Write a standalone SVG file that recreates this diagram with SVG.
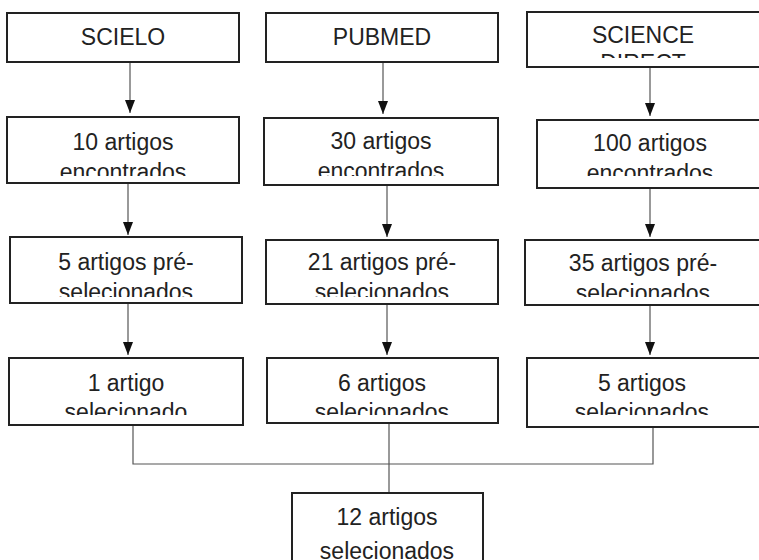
<svg xmlns="http://www.w3.org/2000/svg" width="759" height="560" viewBox="0 0 759 560">
<style>
.box{fill:#fff;stroke:#222;stroke-width:2}
.t{font-family:"Liberation Sans",Arial,sans-serif;font-size:23px;fill:#222;text-anchor:middle}
.c{fill:none;stroke:#555;stroke-width:1.2}
</style>
<defs>
<marker id="ah" viewBox="0 0 13 10" refX="13" refY="5" markerWidth="13" markerHeight="10" markerUnits="userSpaceOnUse" orient="auto">
<path d="M0,0 L13,5 L0,10 Z" fill="#111"/>
</marker>
<clipPath id="k1"><rect x="0" y="0" width="759" height="58"/></clipPath>
<clipPath id="k2"><rect x="0" y="0" width="759" height="176"/></clipPath>
<clipPath id="k3"><rect x="0" y="0" width="759" height="297"/></clipPath>
<clipPath id="k4"><rect x="0" y="0" width="759" height="415"/></clipPath>
</defs>
<g id="connectors">
<line class="c" x1="130" y1="62" x2="130" y2="113" marker-end="url(#ah)"/>
<line class="c" x1="383" y1="62" x2="383" y2="114" marker-end="url(#ah)"/>
<line class="c" x1="650" y1="67" x2="650" y2="116" marker-end="url(#ah)"/>
<line class="c" x1="128" y1="183" x2="128" y2="235" marker-end="url(#ah)"/>
<line class="c" x1="387" y1="185" x2="387" y2="237" marker-end="url(#ah)"/>
<line class="c" x1="650" y1="188" x2="650" y2="237" marker-end="url(#ah)"/>
<line class="c" x1="128" y1="303" x2="128" y2="355" marker-end="url(#ah)"/>
<line class="c" x1="387" y1="304" x2="387" y2="355" marker-end="url(#ah)"/>
<line class="c" x1="650" y1="305" x2="650" y2="355" marker-end="url(#ah)"/>
<polyline class="c" points="133,426 133,464 653,464 653,428"/>
<line class="c" x1="389" y1="424" x2="389" y2="493"/>
</g>
<g id="scielo">
<rect class="box" x="7" y="13" width="232" height="49"/>
<text class="t" x="123" y="45">SCIELO</text>
</g>
<g id="pubmed">
<rect class="box" x="266" y="13" width="232" height="49"/>
<text class="t" x="382" y="45">PUBMED</text>
</g>
<g id="sciencedirect">
<rect class="box" x="527" y="12" width="240" height="55"/>
<g clip-path="url(#k1)"><text class="t" x="643" y="43">SCIENCE<tspan x="643" dy="28">DIRECT</tspan></text></g>
</g>
<g id="scielo-encontrados">
<rect class="box" x="7" y="117" width="232" height="66"/>
<g clip-path="url(#k2)"><text class="t" x="123" y="150">10 artigos<tspan x="123" dy="30">encontrados</tspan></text></g>
</g>
<g id="pubmed-encontrados">
<rect class="box" x="264" y="118" width="234" height="67"/>
<g clip-path="url(#k2)"><text class="t" x="381" y="149">30 artigos<tspan x="381" dy="30">encontrados</tspan></text></g>
</g>
<g id="science-encontrados">
<rect class="box" x="537" y="120" width="230" height="68"/>
<g clip-path="url(#k2)"><text class="t" x="650" y="151">100 artigos<tspan x="650" dy="30">encontrados</tspan></text></g>
</g>
<g id="scielo-pre">
<rect class="box" x="10" y="237" width="232" height="66"/>
<g clip-path="url(#k3)"><text class="t" x="126" y="270">5 artigos pré-<tspan x="126" dy="30">selecionados</tspan></text></g>
</g>
<g id="pubmed-pre">
<rect class="box" x="266" y="240" width="232" height="64"/>
<g clip-path="url(#k3)"><text class="t" x="382" y="270">21 artigos pré-<tspan x="382" dy="30">selecionados</tspan></text></g>
</g>
<g id="science-pre">
<rect class="box" x="525" y="240" width="242" height="65"/>
<g clip-path="url(#k3)"><text class="t" x="643" y="271">35 artigos pré-<tspan x="643" dy="30">selecionados</tspan></text></g>
</g>
<g id="scielo-sel">
<rect class="box" x="9" y="358" width="234" height="67"/>
<g clip-path="url(#k4)"><text class="t" x="126" y="391">1 artigo<tspan x="126" dy="29">selecionado</tspan></text></g>
</g>
<g id="pubmed-sel">
<rect class="box" x="267" y="358" width="231" height="65"/>
<g clip-path="url(#k4)"><text class="t" x="382" y="391">6 artigos<tspan x="382" dy="29">selecionados</tspan></text></g>
</g>
<g id="science-sel">
<rect class="box" x="527" y="358" width="240" height="69"/>
<g clip-path="url(#k4)"><text class="t" x="642" y="391">5 artigos<tspan x="642" dy="29">selecionados</tspan></text></g>
</g>
<g id="total">
<rect class="box" x="292" y="493" width="191" height="90"/>
<text class="t" x="387" y="525">12 artigos<tspan x="387" dy="34">selecionados</tspan></text>
</g>
</svg>
